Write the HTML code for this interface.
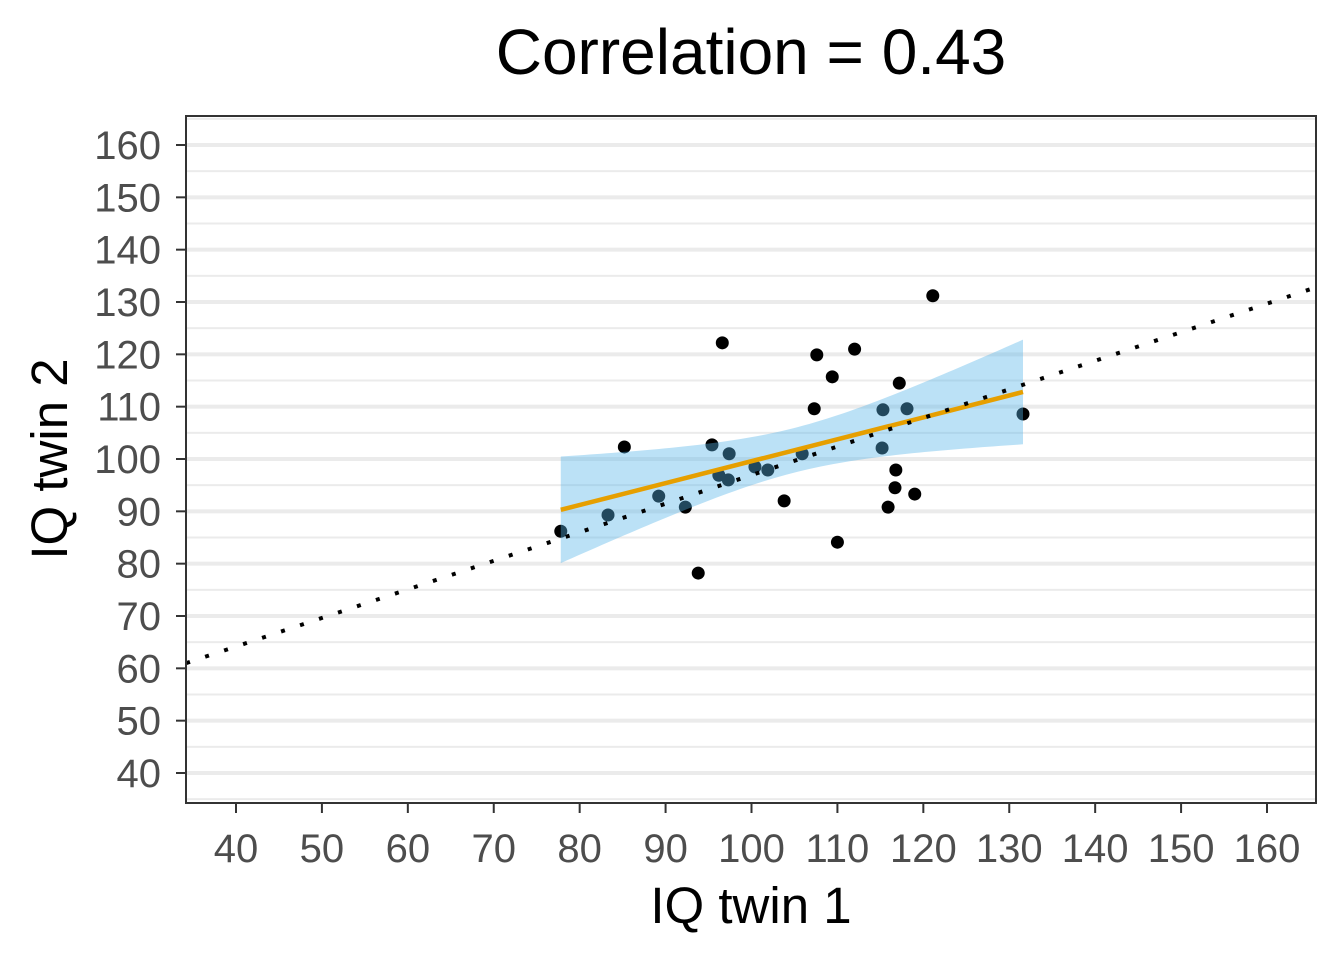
<!DOCTYPE html>
<html><head><meta charset="utf-8"><style>
html,body{margin:0;padding:0;background:#fff;}
svg{display:block;font-family:"Liberation Sans",Arial,sans-serif;}
</style></head><body>
<svg id="chart" width="1344" height="960" viewBox="0 0 1344 960"></svg>
<script>
const xVals=[77.8,85.2,83.3,89.2,92.3,93.8,95.4,96.2,96.6,97.4,97.3,100.4,101.9,103.8,105.9,107.3,107.6,109.4,110.0,112.0,115.2,115.3,115.9,116.7,116.8,117.2,118.1,119.0,121.1,131.6];
const yVals=[86.2,102.3,89.3,92.9,90.8,78.2,102.7,96.9,122.2,101.0,96.0,98.5,97.9,92.0,101.0,109.6,119.9,115.7,84.1,121.0,102.1,109.4,90.8,94.5,97.9,114.5,109.6,93.3,131.2,108.6];
const xTicks=[40,50,60,70,80,90,100,110,120,130,140,150,160];
const yTicks=[40,50,60,70,80,90,100,110,120,130,140,150,160];
const refLine=[[34.2,61.0],[165.7,132.8]];
const titleText="Correlation = 0.43";

const NS="http://www.w3.org/2000/svg";
const svg=document.getElementById('chart');
const L=186,R=1316,T=116,B=803;
const sx=v=>236+(v-40)*(1267-236)/120;
const sy=v=>773-(v-40)*(773-145)/120;
function mk(tag,attrs,parent){const e=document.createElementNS(NS,tag);for(const k in attrs)e.setAttribute(k,attrs[k]);(parent||svg).appendChild(e);return e;}

for(let v=35;v<=165;v+=5){
  const y=sy(v); if(y<T||y>B) continue;
  const major=v%10===0;
  const g=mk('line',{x1:L,x2:R,y1:y,y2:y,stroke:'#ebebeb','stroke-width':major?4:2});
  
  
}
xVals.forEach((xv,i)=>{
  const c=mk('circle',{cx:sx(xv),cy:sy(yVals[i]),r:6.5,fill:'#000'});
  
  
});
const n=xVals.length;
const mx=xVals.reduce((a,b)=>a+b)/n, my=yVals.reduce((a,b)=>a+b)/n;
let sxx=0,sxy=0;for(let i=0;i<n;i++){sxx+=(xVals[i]-mx)**2;sxy+=(xVals[i]-mx)*(yVals[i]-my);}
const b1=sxy/sxx,b0=my-b1*mx;
let sse=0;for(let i=0;i<n;i++)sse+=(yVals[i]-b0-b1*xVals[i])**2;
const s=Math.sqrt(sse/(n-2)), tq=2.048;
const xmin=Math.min(...xVals),xmax=Math.max(...xVals);
let up=[],lo=[];
for(let k=0;k<=80;k++){const x=xmin+(xmax-xmin)*k/80;const f=b0+b1*x;const se=s*Math.sqrt(1/n+(x-mx)**2/sxx);
up.push(sx(x)+','+sy(f+tq*se));lo.unshift(sx(x)+','+sy(f-tq*se));}
const band=mk('polygon',{points:up.concat(lo).join(' '),fill:'#56B4E9','fill-opacity':0.4});


const fit=mk('line',{x1:sx(xmin),y1:sy(b0+b1*xmin),x2:sx(xmax),y2:sy(b0+b1*xmax),stroke:'#E69F00','stroke-width':4.5});


const ref=mk('line',{x1:sx(refLine[0][0]),y1:sy(refLine[0][1]),x2:sx(refLine[1][0]),y2:sy(refLine[1][1]),stroke:'#000','stroke-width':4,'stroke-dasharray':'4 16'});


const pb=mk('rect',{x:L,y:T,width:R-L,height:B-T,fill:'none',stroke:'#333','stroke-width':2});


xTicks.forEach(v=>{
  const x=sx(v);
  const t=mk('line',{x1:x,x2:x,y1:B,y2:B+10,stroke:'#333','stroke-width':2});
  
  
  const tx=mk('text',{x:x,y:862,'text-anchor':'middle','font-size':40,fill:'#4d4d4d'});
  tx.textContent=v;
  
  
});
yTicks.forEach(v=>{
  const y=sy(v);
  const t=mk('line',{x1:L-10,x2:L,y1:y,y2:y,stroke:'#333','stroke-width':2});
  
  
  const tx=mk('text',{x:161,y:y+14,'text-anchor':'end','font-size':40,fill:'#4d4d4d'});
  tx.textContent=v;
  
  
});
const xt=mk('text',{x:751,y:923,'text-anchor':'middle','font-size':51,fill:'#000'});
xt.textContent='IQ twin 1';


const yt=mk('text',{x:0,y:0,'text-anchor':'middle','font-size':51,fill:'#000',transform:'translate(67,459) rotate(-90)'});
yt.textContent='IQ twin 2';


const tt=mk('text',{x:751,y:74,'text-anchor':'middle','font-size':64,fill:'#000'});
tt.textContent=titleText;


</script>
</body></html>
